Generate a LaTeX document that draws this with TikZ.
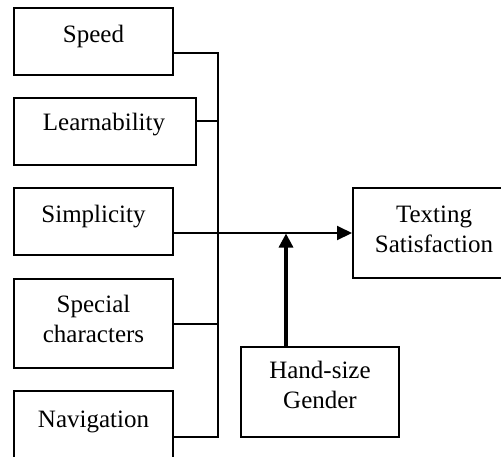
\documentclass[tikz,border=0pt]{standalone}
\usepackage{fontspec}
\setmainfont{Liberation Serif}
\usetikzlibrary{arrows.meta}
\tikzset{
  box/.style={draw=black, line width=1pt, fill=white, inner sep=0pt, rectangle},
  lbl/.style={anchor=base, align=center, inner sep=0pt, font=\fontsize{12.5}{14.75}\selectfont},
  conn/.style={draw=black, line width=1pt},
  mainarrow/.style={conn, -{Triangle[length=7.5pt,width=7pt]}},
  modarrow/.style={draw=black, line width=1.6pt, -{Triangle[length=7pt,width=7pt]}}
}
\begin{document}
\begin{tikzpicture}[x=0.5pt,y=-0.5pt]
\useasboundingbox (0,0) rectangle (501,456);
\clip (0,0) rectangle (501,456);
% boxes
\node[box, minimum width=79.5pt, minimum height=33.5pt] (speed) at (93.5,41.5) {};
\node[box, minimum width=91pt, minimum height=33.5pt] (learn) at (105,131.5) {};
\node[box, minimum width=79.5pt, minimum height=33.5pt] (simp) at (93.5,221.5) {};
\node[box, minimum width=79.5pt, minimum height=44.5pt] (spec) at (93.5,323.5) {};
\node[box, minimum width=79.5pt, minimum height=39.5pt] (nav) at (93.5,430.5) {};
\node[box, minimum width=81pt, minimum height=45pt] (txt) at (434,233) {};
\node[box, minimum width=79pt, minimum height=45pt] (hand) at (320,392) {};
% labels
\node[lbl] (speedt) at (93.5,42) {Speed};
\node[lbl] (learnt) at (104,130) {Learnability};
\node[lbl] (simpt) at (93.5,222) {Simplicity};
\node[lbl] (spect) at (93.5,342) {Special\\characters};
\node[lbl] (navt) at (93.5,427) {Navigation};
\node[lbl] (txtt) at (434,252) {Texting\\Satisfaction};
\node[lbl] (handt) at (320,408) {Hand-size\\Gender};
% bus
\coordinate (b1) at (218,53);
\coordinate (b2) at (218,121);
\coordinate (b4) at (218,324);
\coordinate (b5) at (218,437);
\draw[conn] (speed.east |- b1) -- (b1) -- (b5) -- (nav.east |- b5);
\draw[conn] (learn.east |- b2) -- (b2);
\draw[conn] (spec.east |- b4) -- (b4);
\draw[mainarrow] (simp.east |- txt.west) -- (txt.west);
\coordinate (mod) at (286,233.5);
\draw[modarrow] (hand.north -| mod) -- (mod);
\end{tikzpicture}
\end{document}
